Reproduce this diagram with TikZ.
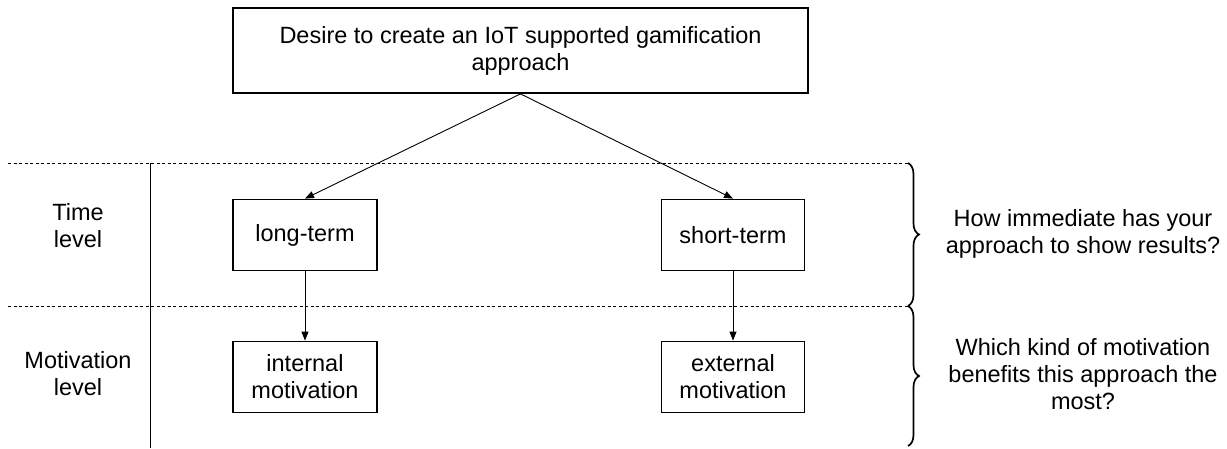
\documentclass[tikz,border=0pt]{standalone}
\usepackage{fontspec}
\setmainfont{Liberation Sans}
\usetikzlibrary{arrows.meta,decorations.pathreplacing}
\tikzset{
  box/.style={draw, line width=1.8pt, align=center, inner sep=0pt},
  conn/.style={line width=0.9pt, -{Triangle[length=9pt,width=7pt]}},
  sep/.style={dashed, line width=0.8pt, dash pattern=on 3pt off 2.5pt},
  brc/.style={decorate, decoration={brace, amplitude=11pt}, line width=1.7pt},
  lbl/.style={align=center, inner sep=0pt}
}
\begin{document}
\begin{tikzpicture}[x=1pt, y=-1pt, font=\fontsize{23.5}{27}\selectfont]
  \useasboundingbox (0,0) rectangle (1227,448);

  % level separators
  \coordinate (s1l) at (8,163);   \coordinate (s1r) at (908,163);
  \coordinate (s2l) at (8,306);   \coordinate (s2r) at (908,306);
  \coordinate (b3) at (908,446);
  \coordinate (vt) at (150,163);  \coordinate (vb) at (150,448);
  \draw[sep] (s1l) -- (s1r);
  \draw[sep] (s2l) -- (s2r);
  \draw[line width=0.9pt] (vt) -- (vb);

  % level names
  \node[lbl] (tl) at (78,226) {Time\\level};
  \node[lbl] (ml) at (78,374) {Motivation\\level};

  % boxes
  \node[box, minimum width=575pt, minimum height=85pt] (goal) at (520.5,50.5)
       {Desire to create an IoT supported gamification\\approach};
  \node[box, minimum width=144pt, minimum height=71pt] (lt) at (305,235) {long-term};
  \node[box, minimum width=143pt, minimum height=71pt] (st) at (733,235) {short-term};
  \node[box, minimum width=144pt, minimum height=71pt] (im) at (305,377) {internal\\motivation};
  \node[box, minimum width=143pt, minimum height=71pt] (em) at (733,377) {external\\motivation};

  % connectors
  \draw[conn] (goal.south) -- (lt.north);
  \draw[conn] (goal.south) -- (st.north);
  \draw[conn] (lt) -- (im);
  \draw[conn] (st) -- (em);

  % braces and questions
  \draw[brc] (s1r) -- (s2r);
  \draw[brc] (s2r) -- (b3);
  \node[lbl] (q1) at (1083,234) {How immediate has your\\approach to show results?};
  \node[lbl] (q2) at (1083,374) {Which kind of motivation\\benefits this approach the\\most?};
\end{tikzpicture}
\end{document}
